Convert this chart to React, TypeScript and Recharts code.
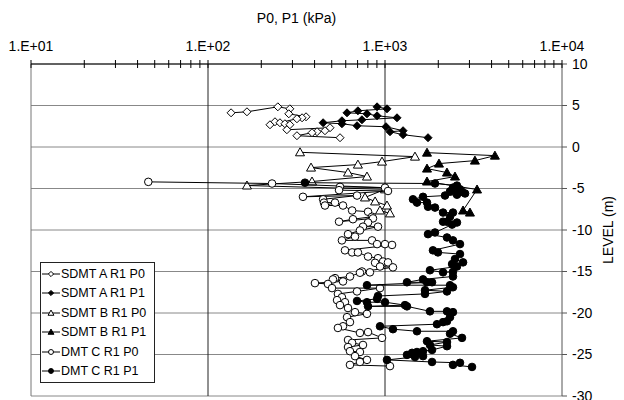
import React from 'react';
import { ScatterChart, Scatter, XAxis, YAxis, CartesianGrid, ReferenceLine, Legend, Label } from 'recharts';

const FONT = '"Liberation Sans", Arial, Helvetica, sans-serif';

// ---- axis ticks ----
const xTicks = [10, 20, 30, 40, 50, 60, 70, 80, 90, 100, 200, 300, 400, 500, 600, 700, 800, 900, 1000, 2000, 3000, 4000, 5000, 6000, 7000, 8000, 9000, 10000];
const xTickLabels: Record<number, string> = { 10: '1.E+01', 100: '1.E+02', 1000: '1.E+03', 10000: '1.E+04' };
const yTicks = [10, 5, 0, -5, -10, -15, -20, -25, -30];
const xGridValues = [100, 1000];

// ---- series data (kPa, level m) ----
const sdmtAP0Kpa = [135, 166, 248, 290, 286, 358, 340, 318, 224, 239, 255, 272, 290, 279, 489, 458, 413, 387, 318, 557];
const sdmtAP0Level = [4.12, 4.24, 4.84, 4.6, 4.0, 3.64, 3.52, 3.4, 2.68, 3.04, 2.92, 2.8, 2.68, 2.08, 2.32, 1.96, 1.84, 1.72, 1.36, 1.12];

const sdmtAP1Kpa = [902, 1026, 703, 610, 791, 902, 1169, 741, 571, 447, 571, 695, 1013, 1265, 1067, 1265, 1750];
const sdmtAP1Level = [4.84, 4.6, 4.36, 4.12, 4.0, 3.76, 3.52, 3.28, 3.16, 2.92, 2.8, 2.56, 2.44, 1.96, 1.84, 1.48, 1.12];

const sdmtBP0Kpa = [331, 1477, 962, 703, 382, 618, 791, 387, 166, 1000, 771, 879, 1026, 937, 1067];
const sdmtBP0Level = [-0.64, -1.16, -1.76, -2.12, -2.48, -3.08, -3.56, -4.16, -4.64, -5.1, -6.08, -6.56, -7.05, -7.65, -8.0];

const sdmtBP1Kpa = [1727, 4178, 3221, 2018, 1727, 2239, 2485, 1727, 3311, 2760, 3020];
const sdmtBP1Level = [-0.68, -1.04, -1.64, -2.0, -2.6, -3.08, -3.56, -4.16, -5.12, -7.65, -7.9];

const dmtCP0Kpa = [46, 230, 1000, 557, 550, 1040, 344, 695, 447, 452, 522, 458, 579, 652, 802, 845, 659, 550, 855, 802, 751, 913, 722, 618, 677, 571, 845, 902, 1000, 1096, 594, 652, 703, 802, 913, 975, 1040, 879, 937, 1109, 741, 822, 722, 634, 522, 508, 579, 402, 476, 502, 937, 695, 542, 571, 536, 594, 557, 618, 677, 791, 610, 634, 579, 542, 722, 802, 962, 618, 652, 751, 618, 634, 722, 677, 791, 722, 634, 1067];
const dmtCP0Level = [-4.2, -4.4, -4.9, -4.8, -5.2, -5.3, -6.0, -5.85, -6.3, -6.7, -6.7, -7.05, -7.05, -7.65, -7.8, -8.4, -8.7, -9.0, -8.6, -9.1, -9.6, -9.6, -10.05, -10.5, -10.8, -11.25, -11.25, -11.7, -11.7, -11.8, -12.45, -12.7, -12.7, -13.2, -13.4, -13.8, -13.9, -13.95, -14.4, -14.5, -15.0, -15.1, -15.15, -15.6, -15.8, -15.95, -16.2, -16.4, -16.5, -17.0, -17.0, -17.4, -17.7, -18.1, -18.45, -18.7, -19.05, -19.4, -19.9, -20.1, -20.5, -21.1, -21.6, -21.8, -22.4, -22.3, -23.0, -23.25, -23.6, -23.85, -24.1, -24.6, -24.7, -25.2, -25.65, -25.9, -26.25, -26.4];

const dmtCP1Kpa = [353, 1916, 2550, 2421, 2653, 2330, 2723, 2833, 2550, 2183, 1640, 1439, 1516, 1727, 1750, 1916, 2128, 2421, 2330, 2128, 2240, 2550, 2393, 1916, 1750, 2240, 2421, 2653, 1866, 1991, 2653, 2485, 2761, 2393, 2550, 1795, 2128, 2421, 2421, 1640, 1331, 1727, 1844, 791, 2330, 2421, 1683, 2240, 1683, 913, 902, 695, 791, 1000, 1297, 802, 1331, 1795, 2240, 2421, 2330, 2240, 2128, 1966, 937, 1109, 1516, 2421, 2330, 2723, 1727, 2240, 1795, 2240, 1844, 1640, 1516, 1422, 1331, 1640, 1477, 1026, 1844, 2653, 2421, 3102];
const dmtCP1Level = [-4.3, -4.4, -4.65, -4.9, -5.1, -5.35, -5.4, -5.6, -5.75, -5.85, -6.0, -6.3, -6.7, -6.7, -7.2, -7.3, -7.9, -7.9, -8.4, -9.0, -9.0, -9.1, -9.35, -10.3, -10.5, -10.9, -11.25, -11.7, -12.45, -12.7, -12.9, -13.5, -13.9, -14.1, -14.4, -14.85, -15.1, -15.05, -15.6, -15.95, -16.3, -16.3, -16.3, -16.65, -16.65, -16.9, -17.25, -17.4, -17.7, -17.95, -18.3, -18.55, -18.7, -18.7, -19.05, -19.2, -19.2, -19.8, -19.8, -19.9, -20.5, -21.0, -21.1, -21.35, -21.6, -21.95, -22.2, -22.2, -22.5, -23.0, -23.4, -23.5, -23.85, -24.0, -24.45, -24.6, -24.7, -24.8, -25.05, -25.2, -25.3, -25.65, -25.9, -26.0, -26.25, -26.5];

const zip = (a: number[], b: number[]) => a.map((p, i) => ({ p, level: b[i] }));

type Kind = 'diamond' | 'triangle' | 'circle';

const drawMarker = (kind: Kind, filled: boolean, cx: number, cy: number, s = 1) => {
  const fill = filled ? '#000' : '#fff';
  if (kind === 'diamond') {
    const d = 4 * s;
    return <polygon points={`${cx},${cy - d} ${cx + d},${cy} ${cx},${cy + d} ${cx - d},${cy}`} fill={fill} stroke="#000" strokeWidth={1} />;
  }
  if (kind === 'triangle') {
    return <polygon points={`${cx},${cy - 4.5 * s} ${cx + 4.5 * s},${cy + 3.5 * s} ${cx - 4.5 * s},${cy + 3.5 * s}`} fill={fill} stroke="#000" strokeWidth={1} />;
  }
  return <circle cx={cx} cy={cy} r={3.8 * s} fill={fill} stroke="#000" strokeWidth={1} />;
};

const series = [
  { name: 'SDMT A R1 P0', data: zip(sdmtAP0Kpa, sdmtAP0Level), kind: 'diamond' as Kind, filled: false },
  { name: 'SDMT A R1 P1', data: zip(sdmtAP1Kpa, sdmtAP1Level), kind: 'diamond' as Kind, filled: true },
  { name: 'SDMT B R1 P0', data: zip(sdmtBP0Kpa, sdmtBP0Level), kind: 'triangle' as Kind, filled: false },
  { name: 'SDMT B R1 P1', data: zip(sdmtBP1Kpa, sdmtBP1Level), kind: 'triangle' as Kind, filled: true },
  { name: 'DMT C R1 P0', data: zip(dmtCP0Kpa, dmtCP0Level), kind: 'circle' as Kind, filled: false },
  { name: 'DMT C R1 P1', data: zip(dmtCP1Kpa, dmtCP1Level), kind: 'circle' as Kind, filled: true },
];

const XTick = (props: any) => {
  const { x, y, payload } = props;
  const lbl = xTickLabels[payload.value];
  return (
    <g>
      <line x1={x} y1={y - 4} x2={x} y2={y + 4} stroke="#000" strokeWidth={1} />
      {lbl ? (
        <text x={x} y={y - 13} textAnchor="middle" fontFamily={FONT} fontSize={14} fill="#000">{lbl}</text>
      ) : null}
    </g>
  );
};

const LegendBox = () => (
  <div style={{ border: '1px solid #222', background: '#fff', padding: '1px 8px 1px 1px', fontFamily: FONT, fontSize: 12.5, color: '#000' }}>
    {series.map((s) => (
      <div key={s.name} style={{ display: 'flex', alignItems: 'center', height: 19.5 }}>
        <svg width={18} height={10} style={{ display: 'block' }}>
          <line x1={0} y1={5} x2={18} y2={5} stroke="#000" strokeWidth={1} />
          {drawMarker(s.kind, s.filled, 9, 5, 0.65)}
        </svg>
        <span style={{ marginLeft: 1, whiteSpace: 'nowrap' }}>{s.name}</span>
      </div>
    ))}
  </div>
);

export default function App() {
  return (
    <div style={{ position: 'absolute', left: 0, top: 0, width: 624, height: 400, background: '#fff' }}>
      <ScatterChart width={624} height={400} margin={{ top: 30, right: 0, bottom: 4, left: 31 }}>
        <CartesianGrid vertical={false} stroke="#888" strokeWidth={1} />
        {xGridValues.map((v) => (
          <ReferenceLine key={v} x={v} stroke="#222" strokeWidth={1} />
        ))}
        <ReferenceLine x={10} stroke="#777" strokeWidth={1} />
        <XAxis
          type="number"
          dataKey="p"
          scale="log"
          domain={[10, 10000]}
          ticks={xTicks}
          interval={0}
          orientation="top"
          height={34}
          tickSize={0}
          tickMargin={0}
          tickLine={false}
          axisLine={{ stroke: '#000' }}
          tick={<XTick />}
          allowDataOverflow
        >
          <Label
            content={(props: any) => {
              const vb = props.viewBox || { x: 31, y: 30, width: 531 };
              const cx = vb.x + vb.width / 2;
              return (
                <text x={cx} y={vb.y - 12} textAnchor="middle" dominantBaseline="central" fontFamily={FONT} fontSize={14} fill="#000">
                  P0, P1 (kPa)
                </text>
              );
            }}
          />
        </XAxis>
        <YAxis
          type="number"
          dataKey="level"
          domain={[-30, 10]}
          ticks={yTicks}
          interval={0}
          orientation="right"
          width={62}
          tickSize={5}
          tickMargin={5}
          axisLine={{ stroke: '#555' }}
          tickLine={{ stroke: '#555' }}
          tick={{ fill: '#000', fontFamily: FONT, fontSize: 14 }}
          allowDataOverflow
        >
          <Label
            content={(props: any) => {
              const vb = props.viewBox || { x: 562, y: 64, width: 62, height: 332 };
              const cx = vb.x + vb.width - 16;
              const cy = vb.y + vb.height / 2;
              return (
                <text x={cx} y={cy} transform={`rotate(-90 ${cx} ${cy})`} textAnchor="middle" dominantBaseline="central" fontFamily={FONT} fontSize={14} fill="#000">
                  LEVEL (m)
                </text>
              );
            }}
          />
        </YAxis>
        {series.map((s) => (
          <Scatter
            key={s.name}
            name={s.name}
            data={s.data}
            isAnimationActive={false}
            line={{ stroke: '#000', strokeWidth: 1 }}
            lineType="joint"
            shape={(p: any) => (p.cx == null || p.cy == null ? <g /> : drawMarker(s.kind, s.filled, p.cx, p.cy))}
          />
        ))}
        <Legend
          layout="vertical"
          align="center"
          verticalAlign="middle"
          wrapperStyle={{ left: 40, top: 262, width: 'auto', height: 'auto' }}
          content={<LegendBox />}
        />
      </ScatterChart>
    </div>
  );
}
